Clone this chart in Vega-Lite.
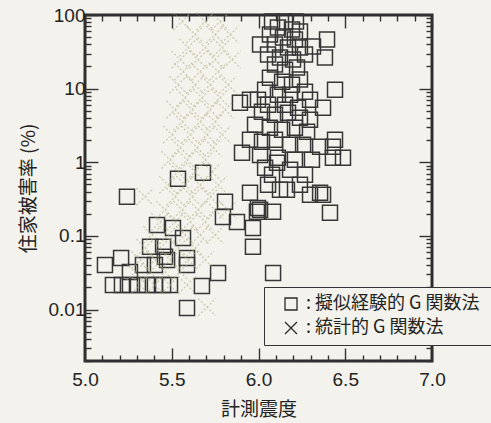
{
  "$schema": "https://vega.github.io/schema/vega-lite/v6.json",
  "width": 347,
  "height": 346,
  "autosize": {"type": "none"},
  "padding": {"left": 85, "top": 15, "right": 59, "bottom": 62},
  "background": "#f3f2ec",
  "config": {
    "view": {"stroke": "#2e2e2e", "strokeWidth": 3},
    "font": "Liberation Sans",
    "axis": {"domain": false, "grid": false, "tickColor": "#333333", "tickWidth": 1.4, "labelColor": "#222222", "labelFont": "Liberation Sans", "labelFontSize": 19, "titleColor": "#222222", "titleFont": "Noto Sans CJK JP", "titleFontSize": 19, "titleFontWeight": "normal", "labelOverlap": false, "labelFlush": false, "labelBound": false}
  },
  "datasets": {
    "sq": [
      {"x": 5.242, "y": 0.34}, {"x": 5.115, "y": 0.0404}, {"x": 5.208, "y": 0.0502}, {"x": 5.259, "y": 0.0324},
      {"x": 5.334, "y": 0.0404}, {"x": 5.415, "y": 0.141}, {"x": 5.507, "y": 0.128}, {"x": 5.565, "y": 0.094},
      {"x": 5.375, "y": 0.071}, {"x": 5.45, "y": 0.071}, {"x": 5.473, "y": 0.0472}, {"x": 5.588, "y": 0.0502},
      {"x": 5.588, "y": 0.0404}, {"x": 5.403, "y": 0.0404}, {"x": 5.461, "y": 0.0519},
      {"x": 5.161, "y": 0.0215}, {"x": 5.213, "y": 0.0215}, {"x": 5.259, "y": 0.0215}, {"x": 5.305, "y": 0.0215},
      {"x": 5.357, "y": 0.0215}, {"x": 5.403, "y": 0.0215}, {"x": 5.45, "y": 0.0215}, {"x": 5.49, "y": 0.0215},
      {"x": 5.767, "y": 0.0314}, {"x": 5.674, "y": 0.0209}, {"x": 5.588, "y": 0.0105}, {"x": 5.536, "y": 0.597},
      {"x": 5.807, "y": 0.29}, {"x": 5.795, "y": 0.181}, {"x": 5.876, "y": 0.155}, {"x": 5.951, "y": 0.385},
      {"x": 5.997, "y": 0.24}, {"x": 5.968, "y": 0.128}, {"x": 5.968, "y": 0.071}, {"x": 6.084, "y": 0.212},
      {"x": 6.084, "y": 0.0314}, {"x": 6.078, "y": 0.676}, {"x": 5.68, "y": 0.72}, {"x": 6.412, "y": 0.206},
      {"x": 5.991, "y": 0.212}, {"x": 6.355, "y": 0.385}, {"x": 6.009, "y": 0.226},
      {"x": 6.078, "y": 81.6}, {"x": 6.153, "y": 81.6}, {"x": 6.216, "y": 81.6}, {"x": 6.112, "y": 67.6},
      {"x": 6.193, "y": 63.5}, {"x": 6.239, "y": 59.6}, {"x": 6.066, "y": 54.3}, {"x": 6.141, "y": 49.4},
      {"x": 6.21, "y": 46.4}, {"x": 6.095, "y": 39.7}, {"x": 6.17, "y": 36.1}, {"x": 6.239, "y": 36.1},
      {"x": 6.055, "y": 29.0}, {"x": 6.124, "y": 26.4}, {"x": 6.199, "y": 24.8}, {"x": 6.268, "y": 29.0},
      {"x": 6.009, "y": 39.7}, {"x": 6.314, "y": 37.3}, {"x": 6.395, "y": 46.4}, {"x": 6.383, "y": 26.4},
      {"x": 6.095, "y": 21.2}, {"x": 6.153, "y": 18.1}, {"x": 6.222, "y": 19.3}, {"x": 6.066, "y": 14.1},
      {"x": 6.136, "y": 12.4}, {"x": 6.193, "y": 11.3}, {"x": 6.239, "y": 13.3}, {"x": 6.038, "y": 9.69},
      {"x": 6.112, "y": 8.29}, {"x": 6.182, "y": 8.29}, {"x": 6.268, "y": 9.1}, {"x": 6.297, "y": 7.09},
      {"x": 5.951, "y": 7.09}, {"x": 5.893, "y": 6.45}, {"x": 5.997, "y": 7.09}, {"x": 6.441, "y": 9.69},
      {"x": 6.372, "y": 5.51}, {"x": 6.055, "y": 6.06}, {"x": 6.153, "y": 6.06}, {"x": 6.228, "y": 5.51},
      {"x": 6.02, "y": 4.86}, {"x": 6.095, "y": 4.43}, {"x": 6.17, "y": 4.72}, {"x": 6.239, "y": 4.03},
      {"x": 6.297, "y": 3.79}, {"x": 5.98, "y": 3.24}, {"x": 6.066, "y": 2.95}, {"x": 6.136, "y": 2.77},
      {"x": 6.21, "y": 2.95}, {"x": 6.28, "y": 2.6}, {"x": 5.951, "y": 2.02}, {"x": 6.02, "y": 1.9},
      {"x": 6.095, "y": 2.02}, {"x": 6.182, "y": 1.73}, {"x": 6.257, "y": 1.73}, {"x": 6.355, "y": 1.63},
      {"x": 6.429, "y": 1.63}, {"x": 6.441, "y": 2.02}, {"x": 6.487, "y": 1.15}, {"x": 6.429, "y": 1.15},
      {"x": 5.905, "y": 1.35}, {"x": 6.009, "y": 1.26}, {"x": 6.112, "y": 1.15}, {"x": 6.21, "y": 1.08},
      {"x": 6.308, "y": 1.08}, {"x": 6.038, "y": 0.842}, {"x": 6.107, "y": 0.984}, {"x": 6.182, "y": 0.791},
      {"x": 6.268, "y": 0.676}, {"x": 6.055, "y": 0.494}, {"x": 6.124, "y": 0.423}, {"x": 6.164, "y": 0.423},
      {"x": 6.239, "y": 0.494}, {"x": 6.372, "y": 0.361}, {"x": 6.297, "y": 0.361}
    ],
    "cx": [
      {"x": 5.559, "y": 81.6}, {"x": 5.692, "y": 81.6}, {"x": 5.778, "y": 81.6},
      {"x": 5.634, "y": 54.3}, {"x": 5.749, "y": 54.3}, {"x": 5.836, "y": 54.3},
      {"x": 5.594, "y": 36.1}, {"x": 5.692, "y": 36.1}, {"x": 5.79, "y": 36.1},
      {"x": 5.548, "y": 24.8}, {"x": 5.651, "y": 24.8}, {"x": 5.749, "y": 24.8}, {"x": 5.847, "y": 24.8},
      {"x": 5.565, "y": 17.0}, {"x": 5.663, "y": 17.0}, {"x": 5.767, "y": 17.0},
      {"x": 5.536, "y": 11.3}, {"x": 5.634, "y": 11.3}, {"x": 5.721, "y": 11.3}, {"x": 5.824, "y": 11.3},
      {"x": 5.576, "y": 7.54}, {"x": 5.674, "y": 7.54}, {"x": 5.778, "y": 7.54},
      {"x": 5.519, "y": 5.18}, {"x": 5.617, "y": 5.18}, {"x": 5.721, "y": 5.18}, {"x": 5.807, "y": 5.18},
      {"x": 5.559, "y": 3.56}, {"x": 5.663, "y": 3.56}, {"x": 5.749, "y": 3.56},
      {"x": 5.501, "y": 2.37}, {"x": 5.605, "y": 2.37}, {"x": 5.703, "y": 2.37}, {"x": 5.79, "y": 2.37},
      {"x": 5.548, "y": 1.58}, {"x": 5.646, "y": 1.58}, {"x": 5.738, "y": 1.58},
      {"x": 5.49, "y": 1.08}, {"x": 5.588, "y": 1.08}, {"x": 5.692, "y": 1.08},
      {"x": 5.536, "y": 0.743}, {"x": 5.634, "y": 0.743}, {"x": 5.732, "y": 0.743},
      {"x": 5.478, "y": 0.494}, {"x": 5.576, "y": 0.494}, {"x": 5.663, "y": 0.494}, {"x": 5.767, "y": 0.494},
      {"x": 5.346, "y": 0.34}, {"x": 5.519, "y": 0.34}, {"x": 5.617, "y": 0.34}, {"x": 5.721, "y": 0.34},
      {"x": 5.461, "y": 0.226}, {"x": 5.559, "y": 0.226}, {"x": 5.651, "y": 0.226}, {"x": 5.749, "y": 0.226}, {"x": 5.824, "y": 0.226},
      {"x": 5.432, "y": 0.155}, {"x": 5.519, "y": 0.155}, {"x": 5.605, "y": 0.155}, {"x": 5.692, "y": 0.155},
      {"x": 5.386, "y": 0.103}, {"x": 5.478, "y": 0.103}, {"x": 5.576, "y": 0.103}, {"x": 5.663, "y": 0.103}, {"x": 5.749, "y": 0.103},
      {"x": 5.346, "y": 0.0687}, {"x": 5.432, "y": 0.0687}, {"x": 5.536, "y": 0.0687}, {"x": 5.634, "y": 0.0687},
      {"x": 5.317, "y": 0.0472}, {"x": 5.403, "y": 0.0472}, {"x": 5.49, "y": 0.0472}, {"x": 5.594, "y": 0.0472}, {"x": 5.692, "y": 0.0472},
      {"x": 5.288, "y": 0.0324}, {"x": 5.375, "y": 0.0324}, {"x": 5.461, "y": 0.0324}, {"x": 5.548, "y": 0.0324},
      {"x": 5.317, "y": 0.0215}, {"x": 5.403, "y": 0.0215}, {"x": 5.49, "y": 0.0215}, {"x": 5.588, "y": 0.0215},
      {"x": 5.703, "y": 0.0108}
    ]
  },
  "layer": [
    {
      "data": {"name": "sq"},
      "mark": {"type": "point", "filled": false, "stroke": "#363636", "strokeWidth": 1.5, "opacity": 1, "size": 225},
      "encoding": {
        "x": {"field": "x", "type": "quantitative", "title": "計測震度",
          "scale": {"domain": [5, 7], "nice": false, "zero": false},
          "axis": {"orient": "bottom", "titlePadding": 4, "labelPadding": 22, "values": [5.0,5.1,5.2,5.3,5.4,5.5,5.6,5.7,5.8,5.9,6.0,6.1,6.2,6.3,6.4,6.5,6.6,6.7,6.8,6.9,7.0],
            "labelExpr": "abs(datum.value*2 - round(datum.value*2)) < 0.001 ? format(datum.value, '.1f') : ''",
            "tickSize": {"condition": {"test": "abs(datum.value*2 - round(datum.value*2)) < 0.001", "value": -13}, "value": -6}}},
        "y": {"field": "y", "type": "quantitative", "title": "住家被害率 (%)",
          "scale": {"type": "log", "domain": [0.002, 100], "nice": false},
          "axis": {"orient": "left", "titlePadding": 10, "labelPadding": 13, "values": [0.002,0.003,0.004,0.005,0.006,0.007,0.008,0.009,0.01,0.02,0.03,0.04,0.05,0.06,0.07,0.08,0.09,0.1,0.2,0.3,0.4,0.5,0.6,0.7,0.8,0.9,1,2,3,4,5,6,7,8,9,10,20,30,40,50,60,70,80,90,100],
            "labelExpr": "datum.value >= 0.0099 && abs(log(datum.value)/LN10 - round(log(datum.value)/LN10)) < 0.001 ? format(datum.value, '~g') : ''",
            "tickSize": {"condition": {"test": "abs(log(datum.value)/LN10 - round(log(datum.value)/LN10)) < 0.001", "value": -13}, "value": -6}}},
        "shape": {"datum": "擬似経験的 G 関数法", "type": "nominal",
          "scale": {"domain": ["擬似経験的 G 関数法", "統計的 G 関数法"], "range": ["square", "M-1,-1L1,1M-1,1L1,-1"]},
          "legend": {"orient": "none", "legendX": 179, "legendY": 272, "title": null, "padding": 8, "symbolOffset": 10,
            "rowPadding": 6, "labelFont": "Noto Sans CJK JP", "labelFontSize": 18, "labelColor": "#222222", "labelOffset": 6,
            "labelExpr": "':  ' + datum.label", "labelLimit": 400,
            "symbolSize": 144, "symbolStrokeWidth": 1.3, "symbolStrokeColor": "#2a2a2a",
            "strokeColor": "#333333", "fillColor": "#f3f2ec"}}
      }
    },
    {
      "data": {"name": "cx"},
      "mark": {"type": "point", "filled": false, "stroke": "#b3ac85", "strokeWidth": 1.2, "strokeDash": [2, 2], "opacity": 0.6, "size": 300},
      "encoding": {
        "x": {"field": "x", "type": "quantitative",
          "axis": {"orient": "top", "title": null, "labels": false, "values": [5.0,5.1,5.2,5.3,5.4,5.5,5.6,5.7,5.8,5.9,6.0,6.1,6.2,6.3,6.4,6.5,6.6,6.7,6.8,6.9,7.0],
            "tickSize": {"condition": {"test": "abs(datum.value*2 - round(datum.value*2)) < 0.001", "value": -13}, "value": -6}}},
        "y": {"field": "y", "type": "quantitative",
          "axis": {"orient": "right", "title": null, "labels": false, "values": [0.002,0.003,0.004,0.005,0.006,0.007,0.008,0.009,0.01,0.02,0.03,0.04,0.05,0.06,0.07,0.08,0.09,0.1,0.2,0.3,0.4,0.5,0.6,0.7,0.8,0.9,1,2,3,4,5,6,7,8,9,10,20,30,40,50,60,70,80,90,100],
            "tickSize": {"condition": {"test": "abs(log(datum.value)/LN10 - round(log(datum.value)/LN10)) < 0.001", "value": -13}, "value": -6}}},
        "shape": {"datum": "統計的 G 関数法", "type": "nominal"}
      }
    }
  ],
  "resolve": {"axis": {"x": "independent", "y": "independent"}}
}
